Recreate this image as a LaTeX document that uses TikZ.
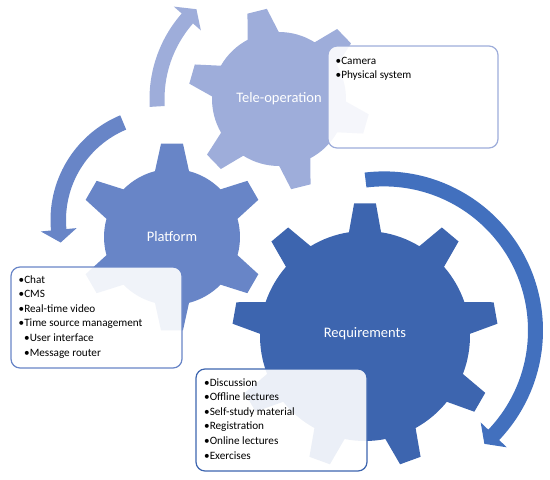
\documentclass[tikz,border=0pt]{standalone}
\usepackage{fontspec}
\setmainfont{Carlito}
\definecolor{cTele}{HTML}{9EADDA}
\definecolor{cPlat}{HTML}{6885C7}
\definecolor{cReq}{HTML}{3D65AF}
\definecolor{cReqA}{HTML}{4270BE}
% gear: cx, cy, rbody, rtooth, n, offset, base half-angle, tip half-angle, colour
\newcommand{\mygear}[9]{%
  \pgfmathsetmacro{\gstep}{360/#5}%
  \pgfmathtruncatemacro{\glast}{#5-1}%
  \fill[#9, shift={(#1,#2)}] ({#6-#7}:#3)
    \foreach \k in {0,...,\glast} {
      -- ({#6+\k*\gstep-#8}:#4) -- ({#6+\k*\gstep+#8}:#4) -- ({#6+\k*\gstep+#7}:#3)
      arc[start angle={#6+\k*\gstep+#7}, end angle={#6+(\k+1)*\gstep-#7}, radius=#3]
    } -- cycle;}
% circular arrow: cx, cy, rin, rout, start, end, tip angle, colour
\newcommand{\myarrow}[8]{%
  \pgfmathsetmacro{\amid}{(#3+#4)/2}%
  \fill[#8, shift={(#1,#2)}] ({#5}:{#4}) arc[start angle=#5, end angle=#6, radius=#4]
    -- ({#6}:{\amid+18}) -- ({#7}:{\amid}) -- ({#6}:{\amid-18}) -- ({#6}:{#3})
    arc[start angle=#6, end angle=#5, radius=#3] -- cycle;}
\tikzset{
  lbl/.style={text=white, inner sep=0, font=\fontsize{14.5}{17}\selectfont},
  item/.style={anchor=base west, inner sep=0, text=black, font=\fontsize{11.2}{14}\selectfont},
  listbox/.style={draw=#1, line width=1.2pt, fill=white, fill opacity=0.9, rounded corners=9pt}
}
\begin{document}
\begin{tikzpicture}[x=1pt,y=1pt]
\useasboundingbox (0,0) rectangle (550,-480);
% gears
\mygear{279}{-99}{67}{91}{6}{44}{13.8}{6.3}{cTele}
\mygear{172}{-237}{68}{94}{6}{90}{14.5}{6.7}{cPlat}
\mygear{365}{-336}{105}{133}{9}{90}{8.8}{4.7}{cReq}
% arrows
\myarrow{279}{-99}{114.5}{129.5}{183.5}{138.7}{132.6}{cTele}
\myarrow{164}{-220}{98}{113.5}{112.7}{185.3}{192.3}{cPlat}
\myarrow{384}{-330.4}{144}{159}{97}{-43.6}{-48.5}{cReqA}
% gear labels
\node[lbl] (tele) at (279,-99) {Tele-operation};
\node[lbl] (plat) at (172,-237) {Platform};
\node[lbl] (req) at (365,-334) {Requirements};
% boxes
\path[listbox=cTele] (328,-46) rectangle (498,-148);
\path[listbox=cPlat] (11,-267) rectangle (182,-368);
\path[listbox=cReq] (196,-369) rectangle (367,-471);
% tele-op list
\node[item] (t1) at (335.5,-64) {•Camera};
\node[item] (t2) at (335.5,-78.6) {•Physical system};
% platform list
\node[item] (p1) at (18.5,-283) {•Chat};
\node[item] (p2) at (18.5,-297.6) {•CMS};
\node[item] (p3) at (18.5,-312.2) {•Real-time video};
\node[item] (p4) at (18.5,-326.8) {•Time source management};
\node[item] (p5) at (24,-341.4) {•User interface};
\node[item] (p6) at (24,-356) {•Message router};
% requirements list
\node[item] (r1) at (204,-386) {•Discussion};
\node[item] (r2) at (204,-400.6) {•Offline lectures};
\node[item] (r3) at (204,-415.2) {•Self-study material};
\node[item] (r4) at (204,-429.8) {•Registration};
\node[item] (r5) at (204,-444.4) {•Online lectures};
\node[item] (r6) at (204,-459) {•Exercises};
\end{tikzpicture}
\end{document}
